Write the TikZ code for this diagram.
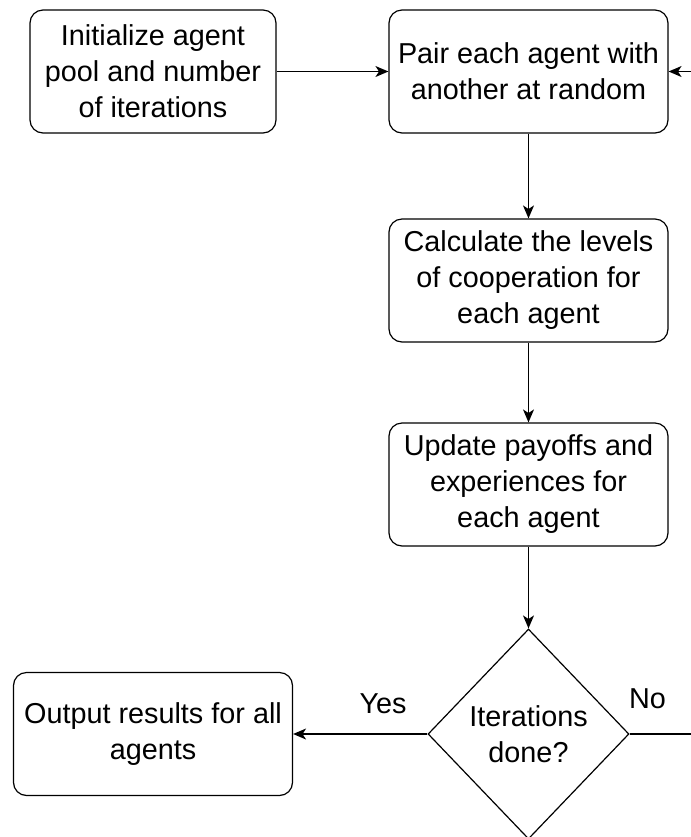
\documentclass[tikz,border=0pt]{standalone}
\usepackage{fontspec}
\setmainfont{Liberation Sans}
\usepackage{tikz}
\usetikzlibrary{arrows,arrows.meta,positioning,shapes}
\tikzstyle{block}=[draw, rectangle, rounded corners=6.5pt, align=center, minimum width=139.5pt, minimum height=61.5pt, inner sep=2pt]
\tikzstyle{decision}=[draw, diamond, align=center, minimum width=100.5pt, minimum height=105pt, inner sep=0pt]
\tikzstyle{input}=[coordinate]
\tikzstyle{output}=[coordinate]

\begin{document}
\begin{tikzpicture}[node distance=104.5pt, auto, >={Stealth[length=6.5pt, width=5.5pt, inset=1.8pt]}, line width=0.6pt, font=\fontsize{14.4pt}{18pt}\selectfont]
    \useasboundingbox (0,0) rectangle (345.5pt,-418.5pt);
    \node [block, minimum width=123pt] (init) at (76.5pt,-35.75pt) {Initialize agent\\pool and number\\of iterations};
    \node [block, right of=init, node distance=187.75pt] (pair) {Pair each agent with\\another at random};
    \node [block, below of=pair] (calc) {Calculate the levels\\of cooperation for\\each agent};
    \node [block, below of=calc, node distance=102pt] (update) {Update payoffs and\\experiences for\\each agent};
    \node [decision, below of=update, node distance=124.75pt] (done) {Iterations\\done?};
    \node [block, left of=done, node distance=187.75pt] (result) {Output results for all\\agents};
    \node [input, right=11.5pt of pair] (loopin) {};
    \node [output, right=31pt of done] (loopout) {};

    \path[->] (init) edge (pair);
    \path[->] (loopin) edge (pair);
    \path[->] (pair) edge (calc);
    \path[->] (calc) edge (update);
    \path[->] (update) edge (done);
    \path[->] (done) edge node[above=6.5pt, pos=0.33] {Yes} (result);
    \path (done) edge node[above=9pt, pos=0.29] {No} (loopout);
\end{tikzpicture}
\end{document}
